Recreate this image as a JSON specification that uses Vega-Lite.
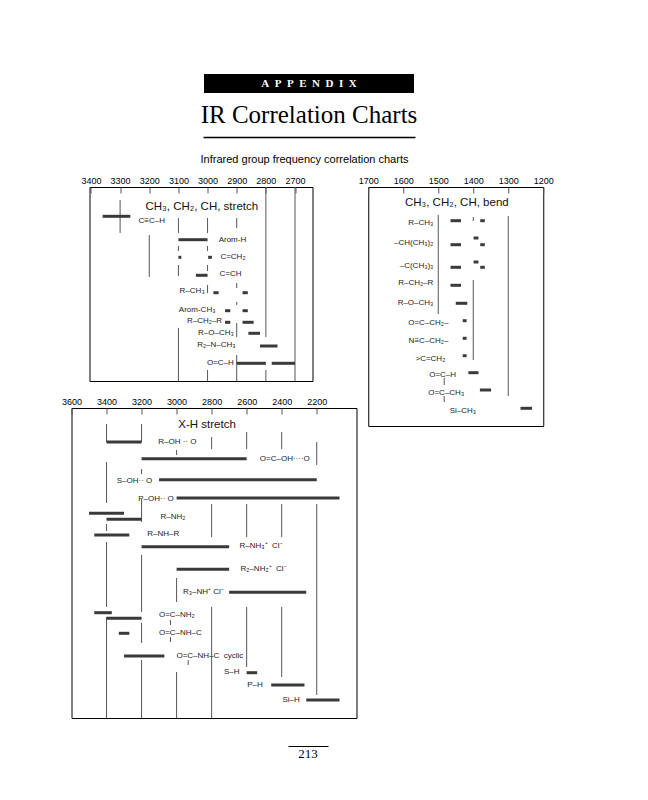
{
  "$schema": "https://vega.github.io/schema/vega-lite/v6.json",
  "background": "white",
  "padding": {"left": 55, "top": 74, "right": 5, "bottom": 5},
  "spacing": 10,
  "center": true,
  "datasets": {
    "p1_bars": [
      {"x": 3360, "x2": 3265, "y": 2.93},
      {"x": 3100, "x2": 3000, "y": 5.27},
      {"x": 3100, "x2": 3090, "y": 7.03},
      {"x": 2998, "x2": 2985, "y": 7.03},
      {"x": 3040, "x2": 3000, "y": 8.83},
      {"x": 2980, "x2": 2962, "y": 10.57},
      {"x": 2880, "x2": 2862, "y": 10.57},
      {"x": 2940, "x2": 2922, "y": 12.37},
      {"x": 2880, "x2": 2862, "y": 12.37},
      {"x": 2940, "x2": 2922, "y": 13.53},
      {"x": 2880, "x2": 2842, "y": 13.53},
      {"x": 2860, "x2": 2820, "y": 14.63},
      {"x": 2820, "x2": 2760, "y": 15.9},
      {"x": 2900, "x2": 2800, "y": 17.63},
      {"x": 2780, "x2": 2700, "y": 17.63}
    ],
    "p1_lines": [
      {"x": 3300, "y": 1.3, "y2": 4.6},
      {"x": 3200, "y": 4.8, "y2": 9.0},
      {"x": 3100, "y": 3.1, "y2": 4.6},
      {"x": 3100, "y": 5.9, "y2": 6.4},
      {"x": 3100, "y": 7.8, "y2": 8.9},
      {"x": 3100, "y": 14.1, "y2": 19.4},
      {"x": 3000, "y": 3.1, "y2": 4.6},
      {"x": 3000, "y": 5.9, "y2": 6.4},
      {"x": 3000, "y": 7.8, "y2": 8.4},
      {"x": 3000, "y": 9.8, "y2": 10.6},
      {"x": 3000, "y": 18.3, "y2": 19.4},
      {"x": 2900, "y": 3.1, "y2": 4.1},
      {"x": 2900, "y": 9.6, "y2": 10.1},
      {"x": 2900, "y": 11.5, "y2": 11.8},
      {"x": 2900, "y": 13.6, "y2": 15.0},
      {"x": 2900, "y": 16.8, "y2": 19.4},
      {"x": 2800, "y": 0, "y2": 15.0},
      {"x": 2800, "y": 18.3, "y2": 19.4},
      {"x": 2700, "y": 0, "y2": 19.4}
    ],
    "p1_lab_l": [
      {"x": 3237, "y": 3.4, "t": "C≡C–H"},
      {"x": 2962, "y": 5.25, "t": "Arom-H"},
      {"x": 2956, "y": 7.0, "t": "C=CH₂"},
      {"x": 2959, "y": 8.7, "t": "C=CH"}
    ],
    "p1_lab_r": [
      {"x": 3010, "y": 10.4, "t": "R–CH₃"},
      {"x": 2973, "y": 12.25, "t": "Arom-CH₃"},
      {"x": 2950, "y": 13.4, "t": "R–CH₂–R"},
      {"x": 2910, "y": 14.6, "t": "R–O–CH₃"},
      {"x": 2904, "y": 15.8, "t": "R₂–N–CH₃"},
      {"x": 2910, "y": 17.55, "t": "O=C–H"}
    ],
    "p1_title": [{"x": 3213, "y": 2.0, "t": "CH₃, CH₂, CH, stretch"}],
    "p2_bars": [
      {"x": 1465, "x2": 1435, "y": 3.37},
      {"x": 1380, "x2": 1367, "y": 3.37},
      {"x": 1465, "x2": 1435, "y": 5.77},
      {"x": 1399, "x2": 1385, "y": 5.1},
      {"x": 1380, "x2": 1367, "y": 5.77},
      {"x": 1465, "x2": 1435, "y": 8.03},
      {"x": 1399, "x2": 1385, "y": 7.5},
      {"x": 1380, "x2": 1367, "y": 8.03},
      {"x": 1465, "x2": 1435, "y": 9.83},
      {"x": 1450, "x2": 1417, "y": 11.63},
      {"x": 1430, "x2": 1419, "y": 13.37},
      {"x": 1430, "x2": 1419, "y": 15.13},
      {"x": 1430, "x2": 1419, "y": 16.87},
      {"x": 1414, "x2": 1385, "y": 18.57},
      {"x": 1381, "x2": 1349, "y": 20.3},
      {"x": 1265, "x2": 1232, "y": 22.13}
    ],
    "p2_lines": [
      {"x": 1500, "y": 2.8, "y2": 12.7},
      {"x": 1400, "y": 3.0, "y2": 3.4},
      {"x": 1400, "y": 9.3, "y2": 17.3},
      {"x": 1300, "y": 2.9, "y2": 20.9},
      {"x": 1483, "y": 19.1, "y2": 19.8},
      {"x": 1483, "y": 20.9, "y2": 21.5}
    ],
    "p2_lab_r": [
      {"x": 1514, "y": 3.6, "t": "R–CH₃"},
      {"x": 1514, "y": 5.6, "t": "–CH(CH₃)₂"},
      {"x": 1514, "y": 7.9, "t": "–C(CH₃)₃"},
      {"x": 1514, "y": 9.6, "t": "R–CH₂–R"},
      {"x": 1514, "y": 11.57, "t": "R–O–CH₃"},
      {"x": 1471, "y": 13.6, "t": "O=C–CH₂–"},
      {"x": 1471, "y": 15.4, "t": "N≡C–CH₂–"},
      {"x": 1480, "y": 17.2, "t": ">C=CH₂"},
      {"x": 1449, "y": 18.8, "t": "O=C–H"},
      {"x": 1426, "y": 20.57, "t": "O=C–CH₃"},
      {"x": 1392, "y": 22.37, "t": "Si–CH₃"}
    ],
    "p2_title": [{"x": 1447, "y": 1.6, "t": "CH₃, CH₂, CH, bend"}],
    "p3_bars": [
      {"x": 3400, "x2": 3200, "y": 3.4},
      {"x": 3200, "x2": 2600, "y": 5.07},
      {"x": 3100, "x2": 2200, "y": 7.17},
      {"x": 3000, "x2": 2070, "y": 9.0},
      {"x": 3500, "x2": 3300, "y": 10.53},
      {"x": 3400, "x2": 3200, "y": 11.13},
      {"x": 3470, "x2": 3270, "y": 12.7},
      {"x": 3200, "x2": 2700, "y": 13.87},
      {"x": 3000, "x2": 2700, "y": 16.13},
      {"x": 2700, "x2": 2260, "y": 18.43},
      {"x": 3470, "x2": 3370, "y": 20.47},
      {"x": 3400, "x2": 3200, "y": 21.03},
      {"x": 3330, "x2": 3270, "y": 22.53},
      {"x": 3300, "x2": 3070, "y": 24.8},
      {"x": 2600, "x2": 2540, "y": 26.47},
      {"x": 2460, "x2": 2270, "y": 27.7},
      {"x": 2260, "x2": 2070, "y": 29.2}
    ],
    "p3_lines": [
      {"x": 3400, "y": 1.6, "y2": 3.4},
      {"x": 3400, "y": 5.4, "y2": 9.5},
      {"x": 3400, "y": 11.6, "y2": 12.3},
      {"x": 3400, "y": 13.4, "y2": 19.9},
      {"x": 3400, "y": 20.9, "y2": 31},
      {"x": 3200, "y": 1.6, "y2": 3.4},
      {"x": 3200, "y": 6.1, "y2": 6.6},
      {"x": 3200, "y": 9.1, "y2": 11.4},
      {"x": 3200, "y": 14.7, "y2": 20.4},
      {"x": 3200, "y": 21.5, "y2": 23.5},
      {"x": 3200, "y": 25.2, "y2": 31},
      {"x": 3000, "y": 4.2, "y2": 4.7},
      {"x": 3000, "y": 17.0, "y2": 19.4},
      {"x": 3000, "y": 26.4, "y2": 31},
      {"x": 2800, "y": 2.9, "y2": 4.1},
      {"x": 2800, "y": 9.6, "y2": 12.9},
      {"x": 2800, "y": 19.9, "y2": 31},
      {"x": 2600, "y": 2.4, "y2": 4.1},
      {"x": 2600, "y": 9.6, "y2": 12.9},
      {"x": 2600, "y": 19.9, "y2": 25.9},
      {"x": 2400, "y": 2.4, "y2": 4.1},
      {"x": 2400, "y": 9.6, "y2": 12.9},
      {"x": 2400, "y": 19.9, "y2": 26.9},
      {"x": 2200, "y": 3.4, "y2": 5.7},
      {"x": 2200, "y": 9.6, "y2": 28.7},
      {"x": 3035, "y": 21.2, "y2": 21.7},
      {"x": 3035, "y": 22.9, "y2": 23.4},
      {"x": 2934, "y": 25.2, "y2": 25.7}
    ],
    "p3_lab_l": [
      {"x": 3105, "y": 3.4, "t": "R–OH ·· O"},
      {"x": 2525, "y": 5.07, "t": "O=C–OH····O"},
      {"x": 3092, "y": 10.93, "t": "R–NH₂"},
      {"x": 3168, "y": 12.6, "t": "R–NH–R"},
      {"x": 2641, "y": 13.8, "t": "R–NH₃⁺\u00a0 Cl⁻"},
      {"x": 2635, "y": 16.13, "t": "R₂–NH₂⁺\u00a0 Cl⁻"},
      {"x": 3101, "y": 20.7, "t": "O=C–NH₂"},
      {"x": 3101, "y": 22.47, "t": "O=C–NH–C"},
      {"x": 3001, "y": 24.8, "t": "O=C–NH–C\u00a0 cyclic"}
    ],
    "p3_lab_r": [
      {"x": 3139, "y": 7.3, "t": "S–OH·· O"},
      {"x": 3016, "y": 9.07, "t": "P–OH·· O"},
      {"x": 2730, "y": 18.43, "t": "R₃–NH⁺ Cl⁻"},
      {"x": 2641, "y": 26.4, "t": "S–H"},
      {"x": 2508, "y": 27.7, "t": "P–H"},
      {"x": 2297, "y": 29.2, "t": "Si–H"}
    ],
    "p3_title": [{"x": 2826, "y": 1.73, "t": "X-H stretch"}]
  },
  "vconcat": [
    {
      "width": 210,
      "height": 19,
      "view": {"fill": "black", "stroke": null},
      "data": {"values": [{"t": "A\u2002P\u2002P\u2002E\u2002N\u2002D\u2002I\u2002X", "p": 0}]},
      "mark": {"type": "text", "color": "white", "font": "Liberation Serif", "fontWeight": "bold", "fontSize": 11},
      "encoding": {
        "y": {"field": "p", "type": "quantitative", "scale": {"domain": [-1, 1]}, "axis": {"orient": "right", "labels": false, "ticks": false, "grid": false, "domain": false, "title": null, "minExtent": 9, "maxExtent": 9}},
        "text": {"field": "t"}
      }
    },
    {
      "width": 212,
      "height": 28,
      "view": {"stroke": null},
      "title": {"text": "Infrared group frequency correlation charts", "orient": "bottom", "anchor": "middle", "offset": 17, "font": "Liberation Sans", "fontSize": 11, "fontWeight": "normal", "color": "black", "baseline": "top", "dx": -4.5},
      "data": {"values": [{"t": "IR Correlation Charts", "p": 0}]},
      "mark": {"type": "text", "font": "Liberation Serif", "fontSize": 25, "baseline": "alphabetic", "color": "black"},
      "encoding": {
        "x": {"field": "p", "type": "quantitative", "scale": {"domain": [-1, 1]}, "axis": {"orient": "bottom", "labels": false, "ticks": false, "grid": false, "title": null, "domain": true, "domainColor": "black", "domainWidth": 1.3}},
        "y": {"field": "p", "type": "quantitative", "scale": {"domain": [-1, 1]}, "axis": {"orient": "right", "labels": false, "ticks": false, "grid": false, "domain": false, "title": null, "minExtent": 9, "maxExtent": 9}},
        "text": {"field": "t"}
      }
    },
    {
      "hconcat": [
        {
          "vconcat": [
            {
              "width": 223,
              "height": 194,
              "encoding": {
                "x": {"field": "x", "type": "quantitative", "scale": {"domain": [2640, 3405], "reverse": true, "nice": false, "zero": false},
                  "axis": {"orient": "top", "values": [3400, 3300, 3200, 3100, 3000, 2900, 2800, 2700], "format": "d", "tickSize": -6, "tickColor": "#555", "tickWidth": 1, "labelPadding": 8, "labelFlush": false, "labelOverlap": false, "minExtent": 11.5, "maxExtent": 11.5, "title": null}},
                "y": {"field": "y", "type": "quantitative", "scale": {"domain": [0, 19.4], "reverse": true, "nice": false, "zero": false},
                  "axis": {"orient": "right", "labels": false, "ticks": false, "domain": false, "grid": false, "title": null, "minExtent": 26, "maxExtent": 26}}
              },
              "layer": [
                {"data": {"name": "p1_lines"}, "mark": {"type": "rule", "color": "#555", "strokeWidth": 1}, "encoding": {"y2": {"field": "y2"}}},
                {"data": {"name": "p1_bars"}, "mark": {"type": "rule", "color": "#3a3a3a", "strokeWidth": 3}, "encoding": {"x2": {"field": "x2"}}},
                {"data": {"name": "p1_lab_l"}, "mark": {"type": "text", "align": "left", "fontSize": 8, "color": "#222"}, "encoding": {"text": {"field": "t"}}},
                {"data": {"name": "p1_lab_r"}, "mark": {"type": "text", "align": "right", "fontSize": 8, "color": "#222"}, "encoding": {"text": {"field": "t"}}},
                {"data": {"name": "p1_title"}, "mark": {"type": "text", "align": "left", "fontSize": 11.5, "color": "#111"}, "encoding": {"text": {"field": "t"}}}
              ]
            },
            {
              "width": 285,
              "height": 310,
              "encoding": {
                "x": {"field": "x", "type": "quantitative", "scale": {"domain": [1973, 3600], "reverse": true, "nice": false, "zero": false},
                  "axis": {"orient": "top", "values": [3600, 3400, 3200, 3000, 2800, 2600, 2400, 2200], "format": "d", "tickSize": -6, "tickColor": "#555", "tickWidth": 1, "labelPadding": 8, "labelFlush": false, "labelOverlap": false, "minExtent": 11.5, "maxExtent": 11.5, "title": null}},
                "y": {"field": "y", "type": "quantitative", "scale": {"domain": [0, 31], "reverse": true, "nice": false, "zero": false},
                  "axis": {"orient": "left", "labels": false, "ticks": false, "domain": false, "grid": false, "title": null, "minExtent": 16, "maxExtent": 16}}
              },
              "layer": [
                {"data": {"name": "p3_lines"}, "mark": {"type": "rule", "color": "#555", "strokeWidth": 1}, "encoding": {"y2": {"field": "y2"}}},
                {"data": {"name": "p3_bars"}, "mark": {"type": "rule", "color": "#3a3a3a", "strokeWidth": 3}, "encoding": {"x2": {"field": "x2"}}},
                {"data": {"name": "p3_lab_l"}, "mark": {"type": "text", "align": "left", "fontSize": 8, "color": "#222"}, "encoding": {"text": {"field": "t"}}},
                {"data": {"name": "p3_lab_r"}, "mark": {"type": "text", "align": "right", "fontSize": 8, "color": "#222"}, "encoding": {"text": {"field": "t"}}},
                {"data": {"name": "p3_title"}, "mark": {"type": "text", "align": "center", "fontSize": 11.5, "color": "#111"}, "encoding": {"text": {"field": "t"}}}
              ]
            }
          ],
          "spacing": 14,
          "center": true
        },
        {
          "width": 175,
          "height": 239,
          "encoding": {
            "x": {"field": "x", "type": "quantitative", "scale": {"domain": [1200, 1700], "reverse": true, "nice": false, "zero": false},
              "axis": {"orient": "top", "values": [1700, 1600, 1500, 1400, 1300, 1200], "format": "d", "tickSize": -6, "tickColor": "#555", "tickWidth": 1, "labelPadding": 8, "labelFlush": false, "labelOverlap": false, "minExtent": 11.5, "maxExtent": 11.5, "title": null}},
            "y": {"field": "y", "type": "quantitative", "scale": {"domain": [0, 23.9], "reverse": true, "nice": false, "zero": false},
              "axis": {"orient": "right", "labels": false, "ticks": false, "domain": false, "grid": false, "title": null, "minExtent": 12, "maxExtent": 12}}
          },
          "layer": [
            {"data": {"name": "p2_lines"}, "mark": {"type": "rule", "color": "#555", "strokeWidth": 1}, "encoding": {"y2": {"field": "y2"}}},
            {"data": {"name": "p2_bars"}, "mark": {"type": "rule", "color": "#3a3a3a", "strokeWidth": 3}, "encoding": {"x2": {"field": "x2"}}},
            {"data": {"name": "p2_lab_r"}, "mark": {"type": "text", "align": "right", "fontSize": 8, "color": "#222"}, "encoding": {"text": {"field": "t"}}},
            {"data": {"name": "p2_title"}, "mark": {"type": "text", "align": "center", "fontSize": 11.5, "color": "#111"}, "encoding": {"text": {"field": "t"}}}
          ]
        }
      ],
      "spacing": 0
    },
    {
      "width": 40,
      "height": 16,
      "view": {"stroke": null},
      "data": {"values": [{"t": "213", "p": 0}]},
      "mark": {"type": "text", "font": "Liberation Serif", "fontSize": 13, "color": "black"},
      "encoding": {
        "x": {"field": "p", "type": "quantitative", "scale": {"domain": [-1, 1]}, "axis": {"orient": "top", "labels": false, "ticks": false, "grid": false, "title": null, "domain": true, "domainColor": "black", "domainWidth": 1.2, "minExtent": 16.5, "maxExtent": 16.5}},
        "y": {"field": "p", "type": "quantitative", "scale": {"domain": [-1, 1]}, "axis": {"orient": "right", "labels": false, "ticks": false, "grid": false, "domain": false, "title": null, "minExtent": 11, "maxExtent": 11}},
        "text": {"field": "t"}
      }
    }
  ],
  "config": {
    "view": {"stroke": "black", "strokeWidth": 1},
    "axis": {"labelFont": "Liberation Sans", "labelFontSize": 9, "labelColor": "black", "domain": false, "grid": false},
    "text": {"font": "Liberation Sans"},
    "title": {"font": "Liberation Sans"}
  }
}
